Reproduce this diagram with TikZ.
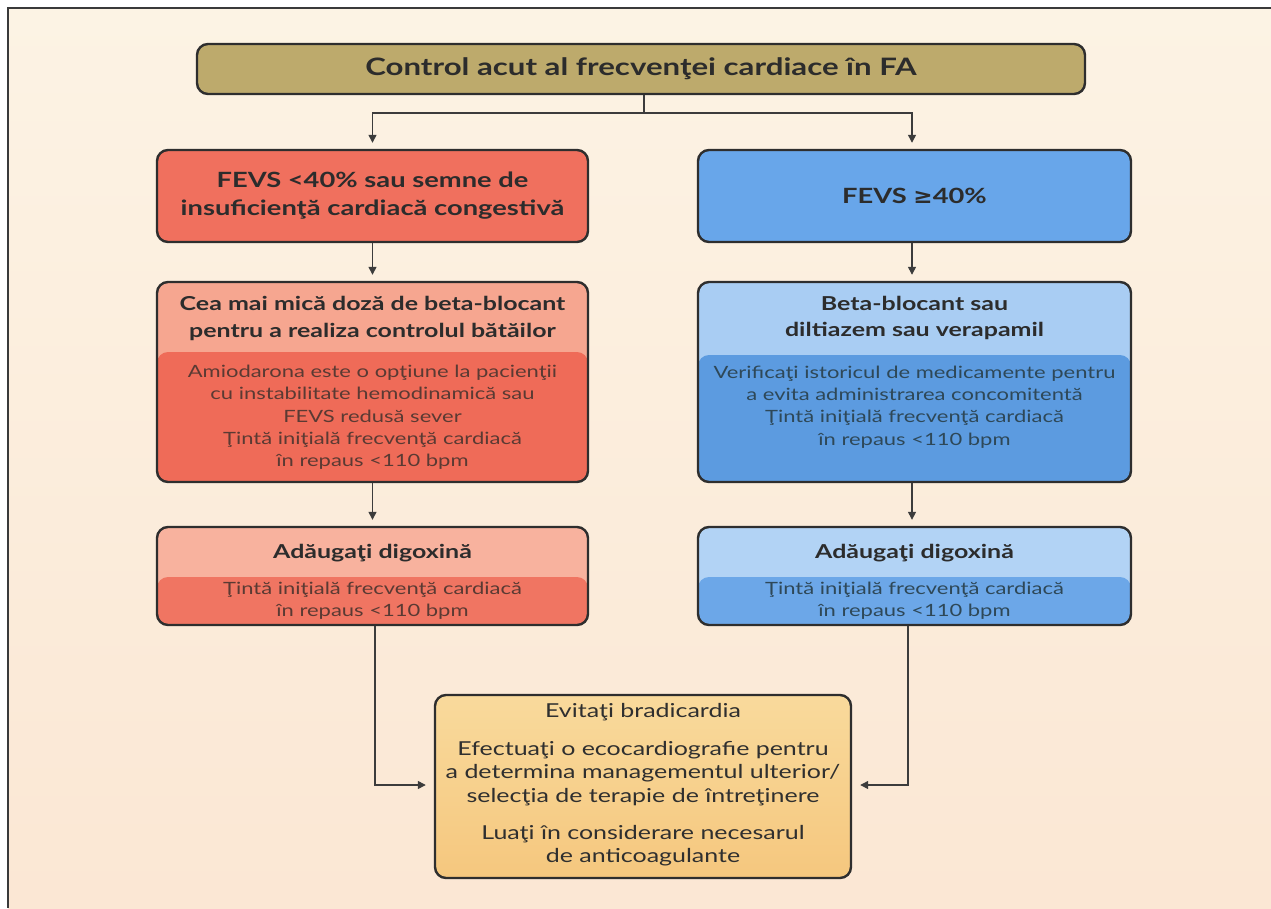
\documentclass[tikz,border=0pt]{standalone}
\usepackage{fontspec}
\setmainfont{Lato}[FakeStretch=1.3]
\newfontfamily\symfont{DejaVu Sans}[FakeStretch=1.1]
\usetikzlibrary{arrows.meta}

\definecolor{paperT}{HTML}{FCF3E4}
\definecolor{paperB}{HTML}{FBE7D4}
\definecolor{framec}{HTML}{3A3A3A}
\definecolor{linec}{HTML}{3C3C3C}
\definecolor{boxline}{HTML}{2E2E2E}
\definecolor{headc}{HTML}{2C2C2C}
\definecolor{olive}{HTML}{BDAA6C}
\definecolor{redA}{HTML}{F0705E}
\definecolor{redLight}{HTML}{F6A690}
\definecolor{redDark}{HTML}{EF6B58}
\definecolor{redLight3}{HTML}{F8B29E}
\definecolor{redDark3}{HTML}{F07562}
\definecolor{blueA}{HTML}{68A6EA}
\definecolor{blueLight}{HTML}{A9CDF3}
\definecolor{blueDark}{HTML}{5C9BE0}
\definecolor{blueLight3}{HTML}{B2D3F5}
\definecolor{blueDark3}{HTML}{6CA7E8}
\definecolor{goldT}{HTML}{F9DA9C}
\definecolor{goldB}{HTML}{F5C77E}
\definecolor{redtext}{HTML}{5A3A33}
\definecolor{bluetext}{HTML}{2E4858}
\definecolor{goldtext}{HTML}{2F2F2F}

\tikzset{
  box/.style={draw=boxline, line width=2.4pt, rounded corners=11pt, inner sep=0pt},
  colbox/.style={box, minimum width=431pt},
  lower/.style 2 args={path picture={
      \fill[#1] (path picture bounding box.south west)
        rectangle ([yshift=-#2]path picture bounding box.north east);}},
  arr/.style={draw=linec, line width=1.3pt, -{Triangle[length=8pt,width=8pt]}},
  plainline/.style={draw=linec, line width=1.3pt},
  titletext/.style={font=\bfseries\fontsize{24}{26}\selectfont, text=headc, align=center},
  headtext/.style={font=\bfseries\fontsize{21}{28}\selectfont, text=headc, align=center},
  subtext/.style={font=\bfseries\fontsize{19.2}{26.5}\selectfont, text=headc, align=center},
  bodytext/.style={font=\fontsize{16.9}{22.3}\selectfont, align=center},
  goldbody/.style={font=\fontsize{19.2}{23.5}\selectfont, text=goldtext, align=center}
}

\begin{document}
\begin{tikzpicture}[x=1pt,y=-1pt]
  % paper and page frame
  \useasboundingbox (0,0) rectangle (1271,908);
  \fill[white] (0,0) rectangle (1271,908);
  \shade[top color=paperT, bottom color=paperB] (8,8) rectangle (1271,908);
  \draw[framec, line width=1.4pt] (8,908) -- (8,8) -- (1271,8);

  % title
  \node[box, fill=olive, minimum width=888pt, minimum height=50pt] (title) at (641,69) {};
  \node[titletext] (titleT) at (title.center) {Control acut al frecvenţei cardiace în FA};

  % first row
  \node[colbox, fill=redA, minimum height=92pt] (red1) at (372.5,196) {};
  \node[headtext] (red1T) at (red1.center) {FEVS <40\% sau semne de\\insuficienţă cardiacă congestivă};
  \node[colbox, fill=blueA, minimum height=92pt, minimum width=433pt] (blue1) at (914.5,196) {};
  \node[headtext] (blue1T) at (blue1.center) {FEVS {\symfont\bfseries ≥}40\%};

  % second row
  \node[colbox, fill=redLight, lower={redDark}{70pt}, minimum height=200pt] (red2) at (372.5,382) {};
  \node[subtext] (red2H) at (372.5,318.5) {Cea mai mică doză de beta-blocant\\pentru a realiza controlul bătăilor};
  \node[bodytext, text=redtext] (red2B) at (372.5,417.5) {Amiodarona este o opţiune la pacienţii\\cu instabilitate hemodinamică sau\\FEVS redusă sever\\Ţintă iniţială frecvenţă cardiacă\\în repaus <110 bpm};

  \node[colbox, fill=blueLight, lower={blueDark}{73pt}, minimum height=200pt, minimum width=433pt] (blue2) at (914.5,382) {};
  \node[subtext] (blue2H) at (914.5,318) {Beta-blocant sau\\diltiazem sau verapamil};
  \node[bodytext, text=bluetext] (blue2B) at (914.5,407) {Verificaţi istoricul de medicamente pentru\\a evita administrarea concomitentă\\Ţintă iniţială frecvenţă cardiacă\\în repaus <110 bpm};

  % third row
  \node[colbox, fill=redLight3, lower={redDark3}{50pt}, minimum height=98pt] (red3) at (372.5,576) {};
  \node[subtext] (red3H) at (372.5,553) {Adăugaţi digoxină};
  \node[bodytext, text=redtext] (red3B) at (372.5,601) {Ţintă iniţială frecvenţă cardiacă\\în repaus <110 bpm};

  \node[colbox, fill=blueLight3, lower={blueDark3}{50pt}, minimum height=98pt, minimum width=433pt] (blue3) at (914.5,576) {};
  \node[subtext] (blue3H) at (914.5,553) {Adăugaţi digoxină};
  \node[bodytext, text=bluetext] (blue3B) at (914.5,601) {Ţintă iniţială frecvenţă cardiacă\\în repaus <110 bpm};

  % final recommendation
  \node[box, top color=goldT, bottom color=goldB, minimum width=416pt, minimum height=183pt] (final) at (643,786.5) {};
  \node[goldbody] (finalA) at (643,712) {Evitaţi bradicardia};
  \node[goldbody] (finalB) at (643,773.5) {Efectuaţi o ecocardiografie pentru\\a determina managementul ulterior/\\selecţia de terapie de întreţinere};
  \node[goldbody] (finalC) at (643,845.5) {Luaţi în considerare necesarul\\de anticoagulante};

  % connectors
  \coordinate (split) at (644,113);
  \draw[plainline] (title.south -| split) -- (split);
  \draw[arr, shorten >=6pt] (split) -| (red1.north);
  \draw[arr, shorten >=6pt] (split) -| (blue1.north -| 912,0);
  \draw[arr, shorten >=6pt] (red1.south) -- (red2.north);
  \draw[arr, shorten >=6pt] (red1.south -| 912,0) -- (blue2.north -| 912,0);
  \draw[arr, shorten >=6pt] (red2.south) -- (red3.north);
  \draw[arr, shorten >=6pt] (blue2.south -| 912,0) -- (blue3.north -| 912,0);
  \coordinate (lin) at (375,785);
  \coordinate (rin) at (908,785);
  \draw[arr, shorten >=8pt] (red3.south -| lin) |- (final.west |- lin);
  \draw[arr, shorten >=8pt] (blue3.south -| rin) |- (final.east |- rin);
\end{tikzpicture}
\end{document}
